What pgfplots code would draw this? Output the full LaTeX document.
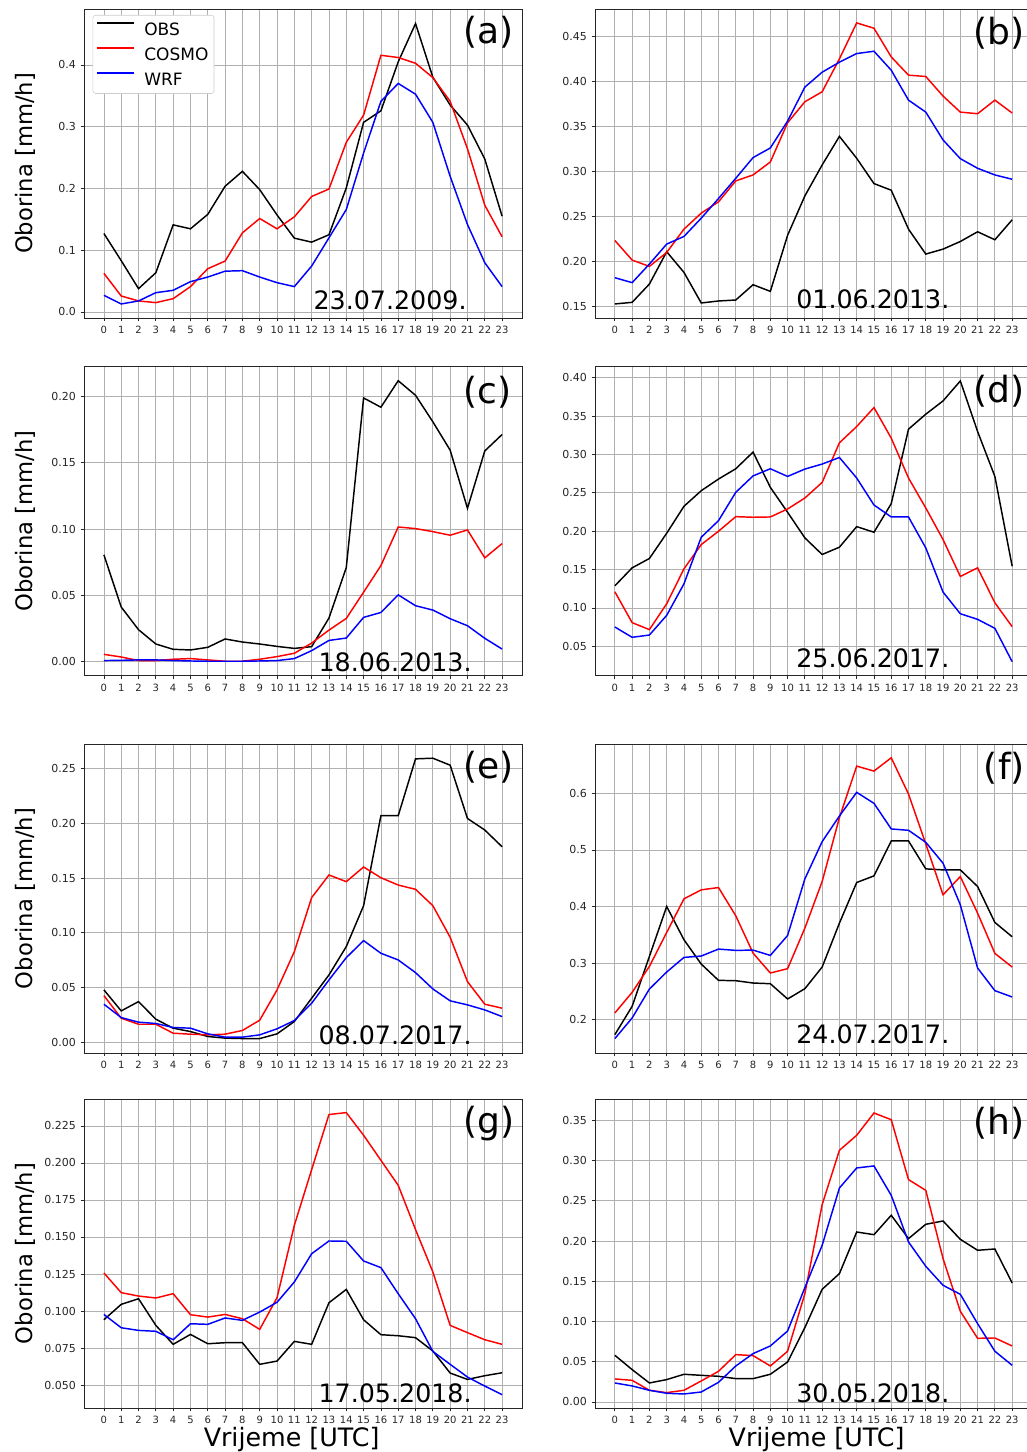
\documentclass[border=0pt]{standalone}
\usepackage{fontspec}
\setmainfont{DejaVu Sans}
\usepackage{pgfplots}
\usepackage{pgfplotstable}
\pgfplotsset{compat=1.18}

\definecolor{gridc}{HTML}{B0B0B0}
\definecolor{legc}{HTML}{CCCCCC}

% hourly means, columns: hour, OBS, COSMO, WRF
\pgfplotstableread{
h obs cosmo wrf
0 0.127 0.0625 0.0269
1 0.083 0.0258 0.0129
2 0.0377 0.0178 0.0178
3 0.0635 0.0151 0.0312
4 0.141 0.0215 0.035
5 0.1346 0.041 0.049
6 0.158 0.070 0.0565
7 0.2035 0.0824 0.066
8 0.2277 0.128 0.0668
9 0.198 0.1513 0.0565
10 0.157 0.1346 0.0474
11 0.1195 0.154 0.041
12 0.113 0.187 0.0743
13 0.125 0.199 0.12
14 0.2008 0.2746 0.1658
15 0.307 0.3187 0.2573
16 0.3257 0.4156 0.341
17 0.405 0.412 0.370
18 0.467 0.4027 0.3526
19 0.380 0.3795 0.307
20 0.335 0.341 0.2196
21 0.3026 0.2643 0.1416
22 0.2476 0.1728 0.0797
23 0.155 0.1217 0.041
}\tA

\pgfplotstableread{
h obs cosmo wrf
0 0.1526 0.2232 0.1818
1 0.1544 0.2014 0.1763
2 0.1748 0.1944 0.197
3 0.2107 0.2099 0.2192
4 0.1877 0.2358 0.2277
5 0.1537 0.2536 0.248
6 0.1559 0.2662 0.2699
7 0.157 0.2895 0.2924
8 0.174 0.2961 0.3154
9 0.1666 0.3105 0.3261
10 0.229 0.3542 0.356
11 0.2728 0.3775 0.3938
12 0.3072 0.3886 0.4104
13 0.339 0.4252 0.4215
14 0.3146 0.4652 0.4311
15 0.2865 0.4593 0.4337
16 0.2791 0.4274 0.4126
17 0.2358 0.4071 0.3793
18 0.2081 0.4056 0.366
19 0.2136 0.3838 0.335
20 0.2221 0.366 0.3142
21 0.2329 0.3642 0.3035
22 0.224 0.3793 0.2961
23 0.2462 0.365 0.2913
}\tB

\pgfplotstableread{
h obs cosmo wrf
0 0.0806 0.0055 0.0008
1 0.0412 0.0035 0.001
2 0.0241 0.0008 0.0013
3 0.0133 0.0008 0.0013
4 0.0093 0.0018 0.0008
5 0.0088 0.0023 0.0005
6 0.0108 0.0013 0.0003
7 0.0171 0.0003 0.0003
8 0.0148 0.0003 0.0003
9 0.0133 0.0018 0.0005
10 0.0115 0.0038 0.0008
11 0.01 0.0063 0.0023
12 0.0113 0.014 0.0083
13 0.0329 0.0238 0.016
14 0.071 0.0326 0.0178
15 0.199 0.0524 0.0334
16 0.192 0.0725 0.0371
17 0.212 0.1016 0.0504
18 0.201 0.1004 0.0422
19 0.181 0.0981 0.0389
20 0.1596 0.0954 0.0324
21 0.1157 0.0994 0.0271
22 0.159 0.0783 0.0176
23 0.1714 0.0891 0.0095
}\tC

\pgfplotstableread{
h obs cosmo wrf
0 0.1288 0.121 0.0751
1 0.1522 0.0808 0.0617
2 0.1644 0.0717 0.0647
3 0.1973 0.1054 0.0903
4 0.2324 0.1509 0.1314
5 0.2527 0.1825 0.1921
6 0.2679 0.1999 0.2137
7 0.2813 0.2189 0.2506
8 0.303 0.2181 0.272
9 0.2571 0.2185 0.2813
10 0.2246 0.2289 0.2713
11 0.1912 0.2432 0.2809
12 0.1696 0.2635 0.2874
13 0.1791 0.3151 0.296
14 0.2059 0.3363 0.2692
15 0.1986 0.361 0.2341
16 0.2358 0.3212 0.2185
17 0.3329 0.2692 0.2185
18 0.3524 0.2302 0.1782
19 0.3697 0.189 0.1206
20 0.3957 0.141 0.0924
21 0.3298 0.1522 0.0851
22 0.2713 0.1067 0.0734
23 0.1544 0.0756 0.030
}\tD

\pgfplotstableread{
h obs cosmo wrf
0 0.0478 0.0426 0.0347
1 0.0286 0.0219 0.0225
2 0.0371 0.0164 0.0183
3 0.021 0.0164 0.0171
4 0.0128 0.0082 0.0134
5 0.0097 0.0073 0.0128
6 0.0052 0.0067 0.0076
7 0.0037 0.0073 0.0046
8 0.0033 0.0107 0.0046
9 0.0033 0.0201 0.0067
10 0.0076 0.0478 0.0122
11 0.0189 0.0828 0.0198
12 0.0402 0.1322 0.0356
13 0.0615 0.1529 0.0569
14 0.0874 0.1468 0.0773
15 0.1248 0.1602 0.0929
16 0.2071 0.1504 0.0813
17 0.2071 0.1437 0.0752
18 0.2591 0.1398 0.0636
19 0.2597 0.1248 0.0487
20 0.2533 0.0959 0.0378
21 0.2046 0.0554 0.0341
22 0.194 0.0347 0.0295
23 0.1787 0.0311 0.0234
}\tE

\pgfplotstableread{
h obs cosmo wrf
0 0.1735 0.2118 0.1665
1 0.2235 0.2482 0.2029
2 0.3118 0.2941 0.2541
3 0.4 0.3541 0.2841
4 0.3412 0.4135 0.31
5 0.2982 0.4294 0.3124
6 0.2694 0.4335 0.3247
7 0.2688 0.3835 0.3224
8 0.2647 0.3176 0.3229
9 0.2635 0.2824 0.3135
10 0.2365 0.29 0.3488
11 0.2547 0.3618 0.4488
12 0.2929 0.4441 0.5147
13 0.3706 0.5571 0.56
14 0.4424 0.6482 0.6018
15 0.4541 0.6394 0.5824
16 0.5159 0.6629 0.5371
17 0.5159 0.5988 0.5347
18 0.4665 0.5106 0.5135
19 0.4647 0.4206 0.4765
20 0.4647 0.4529 0.4029
21 0.4353 0.3882 0.2912
22 0.3718 0.3171 0.2512
23 0.3465 0.2929 0.24
}\tF

\pgfplotstableread{
h obs cosmo wrf
0 0.0941 0.1257 0.0977
1 0.1045 0.1124 0.0887
2 0.1083 0.1101 0.0869
3 0.0903 0.1088 0.0863
4 0.0775 0.1117 0.0806
5 0.0842 0.0975 0.0914
6 0.0779 0.0959 0.091
7 0.0786 0.0977 0.0953
8 0.0786 0.0948 0.0937
9 0.064 0.0876 0.0993
10 0.0662 0.109 0.1059
11 0.0795 0.1579 0.1196
12 0.0775 0.1955 0.1387
13 0.1056 0.2327 0.1473
14 0.1146 0.234 0.1471
15 0.0941 0.2187 0.1338
16 0.084 0.2018 0.1293
17 0.0833 0.1849 0.1117
18 0.082 0.155 0.0948
19 0.073 0.1264 0.0727
20 0.0581 0.0903 0.064
21 0.0538 0.0854 0.0554
22 0.0563 0.0806 0.0493
23 0.0583 0.0775 0.0435
}\tG

\pgfplotstableread{
h obs cosmo wrf
0 0.058 0.0286 0.0236
1 0.0402 0.0269 0.0199
2 0.0236 0.0145 0.0145
3 0.0278 0.0116 0.0108
4 0.0344 0.0145 0.0099
5 0.0331 0.0261 0.0124
6 0.0319 0.0381 0.0244
7 0.029 0.0588 0.0447
8 0.029 0.0576 0.0601
9 0.0344 0.0447 0.0696
10 0.0497 0.063 0.0882
11 0.0924 0.1346 0.1421
12 0.14 0.2452 0.1947
13 0.1595 0.3127 0.2659
14 0.2112 0.3314 0.2908
15 0.2079 0.3591 0.2933
16 0.232 0.3508 0.2568
17 0.203 0.2763 0.1988
18 0.2208 0.263 0.1686
19 0.2249 0.1781 0.145
20 0.2021 0.1127 0.1338
21 0.1885 0.0791 0.0973
22 0.1901 0.0795 0.063
23 0.1479 0.0696 0.0456
}\tH

\pgfplotsset{
  panel/.style={
    scale only axis,
    height=231.75pt,
    xmin=-1.15, xmax=24.15,
    xtick={0,...,23},
    grid=major,
    major grid style={gridc, line width=0.6pt},
    axis line style={black!85, line width=0.6pt},
    tick style={black!85, line width=0.6pt},
    major tick length=2.6pt,
    tick align=outside,
    tick pos=left,
    scaled y ticks=false,
    /pgf/number format/assume math mode=true,
    xticklabel style={font=\fontsize{7.5}{9}\selectfont, text=black!85},
    yticklabel style={font=\fontsize{8.25}{10}\selectfont, text=black!85,
      /pgf/number format/fixed, /pgf/number format/fixed zerofill},
    every axis plot/.append style={line width=1.1pt, mark=none},
  },
  leftp/.style={panel, width=328.5pt},
  rightp/.style={panel, width=327.75pt},
  ylab/.style={ylabel={Oborina [mm/h]},
    ylabel style={at={(rel axis cs:-0.1336,0.5)}, anchor=center, font=\fontsize{17}{20}\selectfont}},
  xlab/.style={xlabel={Vrijeme [UTC]},
    xlabel style={at={(rel axis cs:#1,0)}, anchor=base, yshift=-28.7pt, font=\fontsize{19}{22}\selectfont}},
}
\tikzset{
  datel/.style={anchor=base west, inner sep=0pt, font=\fontsize{19}{22}\selectfont},
  labl/.style={anchor=north west, inner sep=0pt, font=\fontsize{27}{30}\selectfont},
  labr/.style={anchor=north east, inner sep=0pt, font=\fontsize{27}{30}\selectfont},
}

\begin{document}
\begin{tikzpicture}
\path[use as bounding box] (0,0) rectangle (770.25pt,1089pt);

% (a)
\begin{axis}[leftp, ylab, at={(63pt,1082.25pt)}, anchor=north west,
  ymin=-0.0098, ymax=0.4906, ytick={0,0.1,0.2,0.3,0.4},
  yticklabel style={/pgf/number format/precision=1},
  legend style={at={(rel axis cs:0.0199,0.9806)}, anchor=north west,
    draw=legc, rounded corners=2pt, fill=white, inner xsep=2.2pt, inner ysep=3.8pt,
    font=\fontsize{12.75}{14}\selectfont, row sep=5.6pt, column sep=5.2pt,
    nodes={inner sep=2pt, text height=9.3pt, text depth=0pt}},
  legend cell align=left,
  legend image code/.code={\draw[#1, line width=1.6pt] (0pt,4.65pt) -- (27.5pt,4.65pt);}]
\addplot[black] table[x=h,y=obs]{\tA};
\addlegendentry{OBS}
\addplot[red] table[x=h,y=cosmo]{\tA};
\addlegendentry{COSMO}
\addplot[blue] table[x=h,y=wrf]{\tA};
\addlegendentry{WRF}
\node[datel] at (rel axis cs:0.5235,0.0275) {23.07.2009.};
\node[labl] at (rel axis cs:0.866,0.978) {(a)};
\end{axis}

% (b)
\begin{axis}[rightp, at={(446.25pt,1082.25pt)}, anchor=north west,
  ymin=0.137, ymax=0.4807, ytick={0.15,0.20,0.25,0.30,0.35,0.40,0.45},
  yticklabel style={/pgf/number format/precision=2}]
\addplot[black] table[x=h,y=obs]{\tB};
\addplot[red] table[x=h,y=cosmo]{\tB};
\addplot[blue] table[x=h,y=wrf]{\tB};
\node[datel] at (rel axis cs:0.46,0.031) {01.06.2013.};
\node[labr] at (rel axis cs:0.984,0.975) {(b)};
\end{axis}

% (c)
\begin{axis}[leftp, ylab, at={(63pt,813.98pt)}, anchor=north west,
  ymin=-0.0106, ymax=0.2226, ytick={0,0.05,0.10,0.15,0.20},
  yticklabel style={/pgf/number format/precision=2}]
\addplot[black] table[x=h,y=obs]{\tC};
\addplot[red] table[x=h,y=cosmo]{\tC};
\addplot[blue] table[x=h,y=wrf]{\tC};
\node[datel] at (rel axis cs:0.535,0.014) {18.06.2013.};
\node[labl] at (rel axis cs:0.866,0.971) {(c)};
\end{axis}

% (d)
\begin{axis}[rightp, at={(446.25pt,813.98pt)}, anchor=north west,
  ymin=0.0117, ymax=0.4143, ytick={0.05,0.10,0.15,0.20,0.25,0.30,0.35,0.40},
  yticklabel style={/pgf/number format/precision=2}]
\addplot[black] table[x=h,y=obs]{\tD};
\addplot[red] table[x=h,y=cosmo]{\tD};
\addplot[blue] table[x=h,y=wrf]{\tD};
\node[datel] at (rel axis cs:0.46,0.025) {25.06.2017.};
\node[labr] at (rel axis cs:0.984,0.975) {(d)};
\end{axis}

% (e)
\begin{axis}[leftp, ylab, at={(63pt,531pt)}, anchor=north west,
  ymin=-0.0099, ymax=0.2727, ytick={0,0.05,0.10,0.15,0.20,0.25},
  yticklabel style={/pgf/number format/precision=2}]
\addplot[black] table[x=h,y=obs]{\tE};
\addplot[red] table[x=h,y=cosmo]{\tE};
\addplot[blue] table[x=h,y=wrf]{\tE};
\node[datel] at (rel axis cs:0.535,0.029) {08.07.2017.};
\node[labl] at (rel axis cs:0.866,0.977) {(e)};
\end{axis}

% (f)
\begin{axis}[rightp, at={(446.25pt,531pt)}, anchor=north west,
  ymin=0.141, ymax=0.6873, ytick={0.2,0.3,0.4,0.5,0.6},
  yticklabel style={/pgf/number format/precision=1}]
\addplot[black] table[x=h,y=obs]{\tF};
\addplot[red] table[x=h,y=cosmo]{\tF};
\addplot[blue] table[x=h,y=wrf]{\tF};
\node[datel] at (rel axis cs:0.46,0.032) {24.07.2017.};
\node[labr] at (rel axis cs:0.984,0.975) {(f)};
\end{axis}

% (g)
\begin{axis}[leftp, ylab, xlab=0.474, at={(63pt,264.75pt)}, anchor=north west,
  ymin=0.0345, ymax=0.2432, ytick={0.05,0.075,0.1,0.125,0.15,0.175,0.2,0.225},
  yticklabel style={/pgf/number format/precision=3}]
\addplot[black] table[x=h,y=obs]{\tG};
\addplot[red] table[x=h,y=cosmo]{\tG};
\addplot[blue] table[x=h,y=wrf]{\tG};
\node[datel] at (rel axis cs:0.535,0.019) {17.05.2018.};
\node[labl] at (rel axis cs:0.866,0.979) {(g)};
\end{axis}

% (h)
\begin{axis}[rightp, xlab=0.507, at={(446.25pt,264.75pt)}, anchor=north west,
  ymin=-0.0075, ymax=0.3765, ytick={0,0.05,0.10,0.15,0.20,0.25,0.30,0.35},
  yticklabel style={/pgf/number format/precision=2}]
\addplot[black] table[x=h,y=obs]{\tH};
\addplot[red] table[x=h,y=cosmo]{\tH};
\addplot[blue] table[x=h,y=wrf]{\tH};
\node[datel] at (rel axis cs:0.46,0.019) {30.05.2018.};
\node[labr] at (rel axis cs:0.984,0.975) {(h)};
\end{axis}
\end{tikzpicture}
\end{document}
